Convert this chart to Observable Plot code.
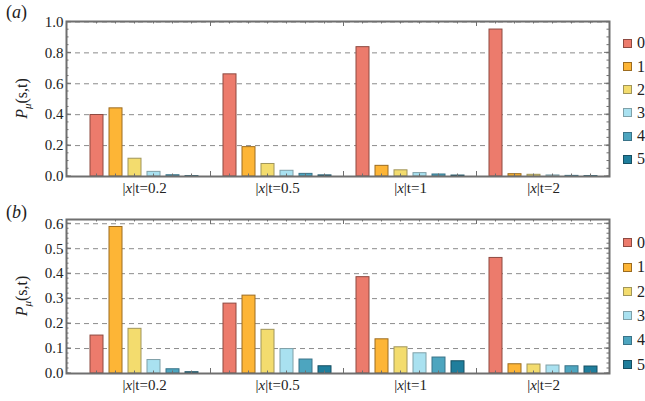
<!DOCTYPE html>
<html><head><meta charset="utf-8">
<script src="https://cdn.jsdelivr.net/npm/d3@7"></script>
<script src="https://cdn.jsdelivr.net/npm/@observablehq/plot@0.6"></script>
<style>
html,body{margin:0;padding:0;background:#fff;}
body{width:645px;height:401px;overflow:hidden;position:relative;font-family:"Liberation Serif","Tinos","Times New Roman","DejaVu Serif",serif;color:#222;}
.panel{position:absolute;left:0;}
.tag{position:absolute;left:6px;font-size:18px;}
.legend{position:absolute;left:623px;width:40px;}
.item{position:absolute;left:0;height:16px;display:flex;align-items:center;white-space:nowrap;font-size:16px;}
.sw{width:7px;height:7px;border:1px solid #555;margin-right:5px;flex:none;}
svg text{font-family:"Liberation Serif","Tinos","Times New Roman","DejaVu Serif",serif !important;}
</style></head><body>
<script>
// ---- data ----
const groups = ["0.2", "0.5", "1", "2"];
const groupLabels = ["|x|t=0.2", "|x|t=0.5", "|x|t=1", "|x|t=2"];
const series = ["0", "1", "2", "3", "4", "5"];
const colors = ["#EC7B6C", "#FDB536", "#F3DC6E", "#A9E1F0", "#4DA5BF", "#1F7E9C"];
const edges  = ["#8E4A41", "#9C6C20", "#A0955A", "#7FA0A8", "#3A7388", "#174F62"];

// panel (a): P per group, series 0..5
const a_02 = [0.398, 0.441, 0.115, 0.030, 0.008, 0.002];
const a_05 = [0.661, 0.190, 0.081, 0.037, 0.017, 0.007];
const a_1  = [0.837, 0.069, 0.040, 0.022, 0.013, 0.006];
const a_2  = [0.951, 0.015, 0.011, 0.007, 0.004, 0.002];
// panel (b)
const b_02 = [0.152, 0.587, 0.179, 0.054, 0.017, 0.005];
const b_05 = [0.280, 0.312, 0.175, 0.098, 0.056, 0.029];
const b_1  = [0.386, 0.137, 0.105, 0.081, 0.064, 0.049];
const b_2  = [0.463, 0.037, 0.036, 0.032, 0.029, 0.028];

const yTicksA = [0, 0.2, 0.4, 0.6, 0.8, 1.0];
const yTicksB = [0, 0.1, 0.2, 0.3, 0.4, 0.5, 0.6];

// ---- build ----
const FONT = '"Liberation Serif", "Tinos", "Times New Roman", "DejaVu Serif", serif';
const W = 645, ML = 66, MR = 36;
const xDomain = groups.flatMap(g => [g + "|gap", ...series.map(s => g + "|" + s)]);
const xRange = [65, 602];
const step = (xRange[1] - xRange[0]) / xDomain.length;

function makePanel(cfg) {
  const {valuesByGroup, yMax, yTicks, minorStep, top, height, marginTop, marginBottom, tag} = cfg;
  const data = [];
  groups.forEach((g, gi) => series.forEach((s, si) => data.push({key: g + "|" + s, si, value: valuesByGroup[gi][si]})));
  const labelData = groups.map((g, gi) => ({key: g + "|2", label: groupLabels[gi]}));
  const grid = yTicks.filter(v => v > 0 && v < yMax - 1e-9);

  const plot = Plot.plot({
    width: W, height, marginLeft: ML, marginRight: MR, marginTop, marginBottom,
    style: {fontFamily: FONT, fontSize: "15px", color: "#222", background: "white", overflow: "visible"},
    x: {domain: xDomain, range: xRange, paddingInner: 0.34, paddingOuter: 0.17, axis: null},
    y: {domain: [0, yMax], ticks: yTicks, tickFormat: d3.format(".1f"), tickSize: 0, tickPadding: 3, label: null},
    marks: [
      Plot.ruleY(grid, {stroke: "#8c8c8c", strokeWidth: 1, strokeDasharray: "5,4"}),
      ...series.map((s, si) => Plot.barY(data.filter(d => d.si === si), {x: "key", y: "value", fill: colors[si], stroke: edges[si], strokeWidth: 1})),
      Plot.text(labelData, {x: "key", y: 0, text: "label", dx: step / 2, dy: 12, lineAnchor: "middle", fontSize: 15, fill: "#222"}),
      Plot.frame({stroke: "#6f6f6f", strokeWidth: 2})
    ]
  });

  const svg = d3.select(plot.tagName.toLowerCase() === "svg" ? plot : plot.querySelector("svg"));
  const xs = plot.scale("x"), ys = plot.scale("y");
  const bw = xs.bandwidth;
  const y0 = ys.apply(0), yTop = ys.apply(yMax);
  const xL = ML, xR = W - MR;
  const g = svg.append("g").attr("stroke", "#6f6f6f").attr("stroke-width", 1);
  yTicks.forEach(v => {
    const y = ys.apply(v);
    g.append("line").attr("x1", xL).attr("x2", xL + 5).attr("y1", y).attr("y2", y);
    g.append("line").attr("x1", xR).attr("x2", xR - 5).attr("y1", y).attr("y2", y);
  });
  for (let v = 0; v <= yMax + 1e-9; v += minorStep) {
    const y = ys.apply(v);
    g.append("line").attr("x1", xL).attr("x2", xL + 2.5).attr("y1", y).attr("y2", y);
    g.append("line").attr("x1", xR).attr("x2", xR - 2.5).attr("y1", y).attr("y2", y);
  }
  groups.forEach((gr, gi) => {
    if (gi > 0) {
      const x = xs.apply(gr + "|gap") + bw / 2;
      g.append("line").attr("x1", x).attr("x2", x).attr("y1", y0).attr("y2", y0 - 5);
      g.append("line").attr("x1", x).attr("x2", x).attr("y1", yTop).attr("y2", yTop + 5);
    }
    series.forEach(s => {
      const x = xs.apply(gr + "|" + s) + bw / 2;
      g.append("line").attr("x1", x).attr("x2", x).attr("y1", y0).attr("y2", y0 - 2.5);
      g.append("line").attr("x1", x).attr("x2", x).attr("y1", yTop).attr("y2", yTop + 2.5);
    });
  });
  svg.selectAll("text").each(function() {
    const t = this.textContent;
    if (t.startsWith("|x|")) {
      const el = d3.select(this);
      el.text("");
      el.append("tspan").text("|");
      el.append("tspan").attr("font-style", "italic").text("x");
      el.append("tspan").text(t.slice(2));
    }
  });
  const yc = (y0 + yTop) / 2;
  const lab = svg.append("text").attr("x", 0).attr("y", 0)
    .attr("transform", `translate(27,${yc}) rotate(-90)`)
    .style("text-anchor", "middle").style("font-size", "16px").attr("fill", "#222");
  lab.append("tspan").attr("font-style", "italic").text("P");
  lab.append("tspan").attr("font-style", "italic").style("font-size", "11px").style("baseline-shift", "-4px").text("\u03bc");
  lab.append("tspan").text("(s,t)");

  const div = document.createElement("div");
  div.className = "panel";
  div.style.top = top + "px";
  div.appendChild(plot);
  document.body.appendChild(div);

  const tg = document.createElement("div");
  tg.className = "tag";
  tg.style.top = (top + 2) + "px";
  tg.innerHTML = `(<i>${tag}</i>)`;
  document.body.appendChild(tg);

  const lg = document.createElement("div");
  lg.className = "legend";
  lg.style.top = top + "px";
  series.forEach((s, si) => {
    const it = document.createElement("div");
    it.className = "item";
    it.style.top = (cfg.legendTop + si * cfg.legendStep - 8) + "px";
    const sw = document.createElement("span");
    sw.className = "sw";
    sw.style.background = colors[si];
    sw.style.borderColor = edges[si];
    it.appendChild(sw);
    it.appendChild(document.createTextNode(s));
    lg.appendChild(it);
  });
  document.body.appendChild(lg);
}

makePanel({valuesByGroup: [a_02, a_05, a_1, a_2], yMax: 1.003, yTicks: yTicksA, minorStep: 0.05,
  top: 0, height: 200, marginTop: 21, marginBottom: 24, tag: "a", legendTop: 43.3, legendStep: 23.2});
makePanel({valuesByGroup: [b_02, b_05, b_1, b_2], yMax: 0.617, yTicks: yTicksB, minorStep: 0.02,
  top: 200, height: 201, marginTop: 19, marginBottom: 28, tag: "b", legendTop: 42.7, legendStep: 24.4});
</script>
</body></html>
